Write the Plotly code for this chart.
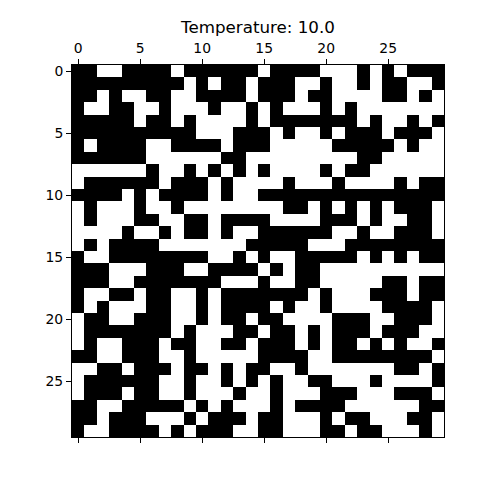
import plotly.graph_objects as go

temperature = 10.0
tick_vals = [0, 5, 10, 15, 20, 25]

# 1 = black spin, 0 = white spin (row 0 at the top)
spins = [
    [1, 1, 0, 0, 1, 1, 1, 1, 0, 1, 1, 1, 1, 1, 1, 0, 1, 1, 1, 1, 0, 0, 0, 1, 0, 1, 0, 1, 1, 1],
    [1, 1, 1, 1, 1, 1, 1, 1, 1, 0, 1, 0, 1, 1, 0, 1, 1, 1, 0, 0, 1, 0, 0, 1, 0, 1, 1, 0, 0, 1],
    [1, 1, 0, 1, 0, 0, 1, 1, 0, 0, 1, 1, 1, 1, 0, 1, 1, 1, 0, 1, 1, 0, 0, 0, 0, 1, 1, 0, 1, 0],
    [1, 0, 0, 1, 1, 0, 0, 1, 0, 0, 0, 1, 0, 0, 1, 0, 1, 0, 0, 0, 1, 0, 1, 0, 0, 0, 0, 0, 0, 0],
    [1, 1, 1, 1, 1, 0, 1, 1, 0, 1, 0, 0, 0, 0, 1, 0, 1, 1, 1, 1, 1, 1, 1, 0, 1, 0, 0, 1, 0, 1],
    [1, 1, 1, 1, 1, 1, 1, 1, 1, 1, 0, 0, 0, 1, 1, 1, 0, 1, 0, 0, 1, 0, 1, 1, 1, 0, 1, 1, 1, 0],
    [1, 0, 1, 1, 1, 1, 0, 0, 1, 1, 1, 1, 0, 1, 1, 1, 0, 0, 0, 0, 0, 1, 1, 1, 1, 1, 0, 1, 0, 0],
    [1, 1, 1, 1, 1, 1, 0, 0, 0, 0, 0, 0, 1, 1, 0, 0, 0, 0, 0, 0, 0, 0, 0, 1, 1, 0, 0, 0, 0, 0],
    [0, 0, 0, 0, 0, 0, 1, 0, 0, 1, 0, 1, 0, 1, 0, 1, 0, 0, 0, 0, 1, 0, 1, 1, 0, 0, 0, 0, 0, 0],
    [0, 1, 1, 1, 1, 1, 1, 0, 1, 1, 1, 0, 1, 0, 0, 0, 0, 1, 0, 0, 0, 1, 0, 0, 0, 0, 1, 0, 1, 1],
    [1, 1, 1, 1, 0, 1, 0, 1, 1, 1, 1, 0, 1, 0, 0, 1, 1, 1, 1, 1, 1, 1, 1, 1, 1, 1, 1, 1, 1, 1],
    [0, 1, 0, 0, 0, 1, 0, 0, 1, 0, 0, 0, 0, 0, 0, 0, 0, 1, 1, 0, 1, 0, 1, 0, 1, 0, 1, 1, 1, 0],
    [0, 1, 0, 0, 0, 1, 1, 0, 0, 1, 1, 0, 1, 1, 1, 1, 0, 0, 0, 0, 1, 1, 1, 0, 1, 0, 0, 1, 1, 0],
    [0, 0, 0, 0, 1, 0, 0, 1, 0, 1, 1, 0, 1, 0, 0, 1, 1, 1, 1, 1, 1, 0, 0, 1, 0, 0, 1, 1, 1, 0],
    [0, 1, 0, 1, 1, 1, 1, 0, 0, 0, 0, 0, 0, 0, 1, 1, 1, 1, 1, 0, 0, 0, 1, 1, 1, 1, 1, 1, 1, 1],
    [1, 0, 0, 1, 1, 1, 1, 1, 1, 1, 1, 0, 0, 1, 0, 1, 0, 0, 1, 1, 1, 1, 1, 0, 1, 0, 1, 0, 1, 1],
    [1, 1, 1, 0, 0, 0, 1, 1, 1, 0, 0, 1, 1, 1, 1, 0, 1, 0, 1, 1, 0, 0, 0, 0, 0, 0, 0, 0, 0, 0],
    [1, 1, 1, 0, 0, 1, 1, 1, 1, 1, 1, 1, 0, 0, 0, 1, 0, 0, 1, 1, 0, 0, 0, 0, 0, 1, 1, 0, 1, 1],
    [1, 0, 0, 1, 1, 0, 1, 1, 0, 0, 1, 0, 1, 1, 1, 1, 1, 1, 1, 0, 1, 0, 0, 0, 1, 1, 1, 0, 1, 1],
    [1, 0, 1, 0, 0, 0, 1, 1, 0, 0, 1, 0, 1, 1, 1, 1, 0, 1, 0, 0, 1, 0, 0, 0, 0, 1, 1, 1, 1, 0],
    [0, 1, 1, 0, 0, 1, 1, 1, 0, 0, 1, 0, 1, 1, 0, 1, 1, 0, 0, 0, 0, 1, 1, 1, 0, 0, 1, 1, 1, 0],
    [0, 1, 1, 1, 1, 1, 1, 1, 0, 1, 0, 0, 0, 1, 1, 0, 1, 1, 0, 1, 0, 1, 1, 1, 0, 1, 1, 1, 0, 0],
    [0, 1, 0, 0, 1, 1, 1, 0, 1, 1, 0, 0, 1, 1, 0, 1, 1, 1, 0, 1, 0, 1, 1, 0, 1, 0, 1, 0, 0, 1],
    [1, 1, 0, 0, 1, 1, 1, 0, 0, 1, 0, 0, 0, 0, 0, 1, 1, 1, 1, 0, 0, 1, 1, 1, 1, 1, 1, 1, 1, 0],
    [0, 0, 1, 1, 0, 1, 1, 1, 0, 1, 1, 0, 1, 0, 1, 1, 0, 0, 1, 0, 0, 0, 0, 0, 0, 0, 1, 1, 0, 1],
    [0, 1, 1, 1, 1, 1, 1, 0, 0, 1, 0, 0, 1, 0, 1, 0, 1, 0, 0, 1, 1, 0, 0, 0, 1, 0, 0, 0, 0, 1],
    [0, 1, 1, 1, 0, 1, 1, 0, 0, 1, 0, 0, 0, 1, 0, 0, 1, 0, 0, 0, 1, 1, 1, 0, 0, 0, 1, 1, 1, 0],
    [1, 1, 0, 0, 1, 1, 1, 1, 1, 0, 1, 0, 1, 0, 0, 0, 1, 0, 1, 1, 1, 1, 0, 0, 0, 0, 0, 0, 1, 1],
    [1, 1, 0, 1, 1, 1, 0, 0, 0, 1, 0, 1, 1, 1, 0, 1, 1, 0, 0, 0, 1, 0, 1, 1, 0, 0, 0, 1, 1, 0],
    [1, 0, 0, 1, 1, 1, 1, 0, 1, 0, 1, 1, 1, 0, 0, 1, 1, 0, 0, 0, 1, 1, 0, 1, 1, 0, 0, 0, 1, 0],
]

n = len(spins)

fig = go.Figure(go.Heatmap(
    z=spins,
    x=list(range(n)),
    y=list(range(n)),
    colorscale=[[0, 'white'], [1, 'black']],
    zmin=0, zmax=1,
    showscale=False,
    hoverinfo='skip',
))

axis_font = dict(family='DejaVu Sans', size=13.9, color='black')

# the page adds an 8px body margin, so the figure is shifted by 8px
fig.update_layout(
    width=480, height=480,
    margin=dict(l=64, r=44, t=57, b=51),
    paper_bgcolor='white', plot_bgcolor='white',
    title=dict(text='Temperature: ' + str(temperature), x=0.5, xref='paper',
               xanchor='center', y=1 - 19 / 480, yref='container', yanchor='middle',
               font=dict(family='DejaVu Sans', size=16.7, color='black')),
    xaxis=dict(range=[-0.5, n - 0.5], side='top', tickvals=tick_vals,
               ticks='outside', ticklen=5, tickwidth=1, tickcolor='black',
               showline=True, linecolor='black', linewidth=1, mirror='ticks',
               showgrid=False, zeroline=False, tickfont=axis_font),
    yaxis=dict(range=[n - 0.5, -0.5], tickvals=tick_vals,
               ticks='outside', ticklen=5, tickwidth=1, tickcolor='black',
               showline=True, linecolor='black', linewidth=1, mirror=True,
               showgrid=False, zeroline=False, tickfont=axis_font),
)

fig.write_html("out.html")
